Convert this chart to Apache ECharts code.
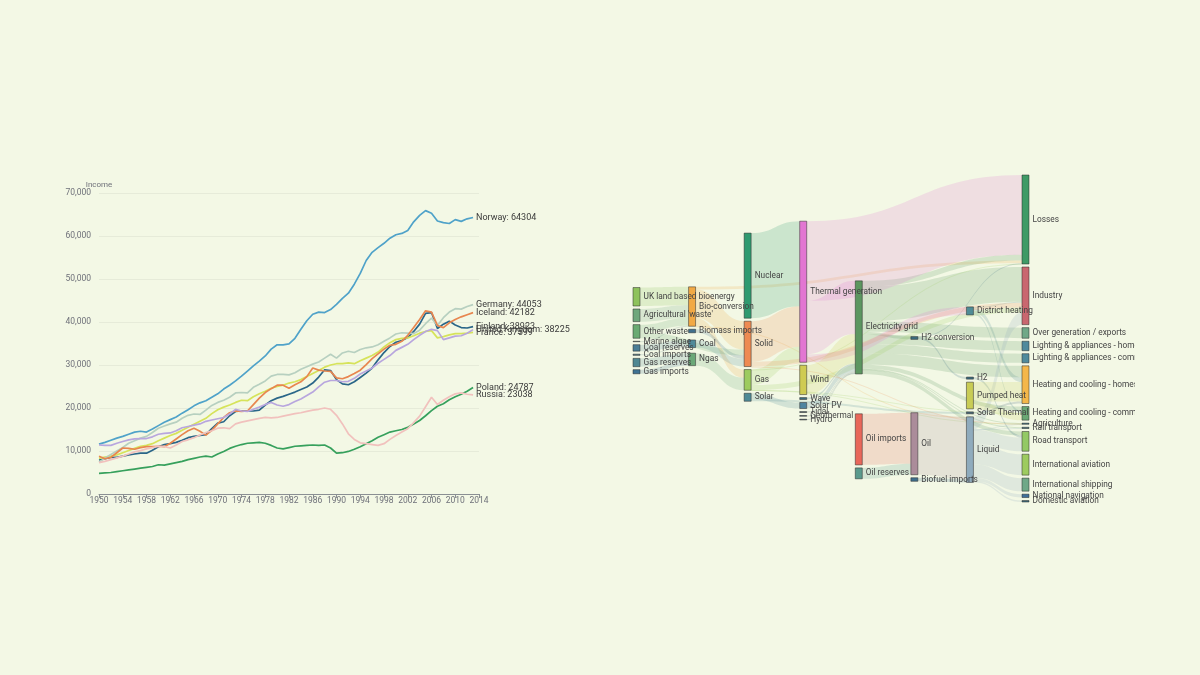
<!DOCTYPE html>
<html>
<head>
<meta charset="utf-8">
<script src="https://cdn.jsdelivr.net/npm/echarts@6/dist/echarts.min.js"></script>
<style>
  html, body { margin: 0; padding: 0; background: #f3f8e5; }
  #main { width: 1135px; height: 675px; overflow: hidden; }
</style>
</head>
<body>
<div id="main"></div>
<script>
// ---------- Line chart data (income per country) ----------
const years = [];
for (let y = 1950; y <= 2014; y++) years.push(String(y));

const countries = ['Finland', 'France', 'Germany', 'Iceland', 'Norway', 'Poland', 'Russia', 'United Kingdom'];

const finland = [7900,8200,8500,8500,8800,9100,9300,9500,9500,10200,
 11000,11500,11700,12000,12500,13100,13400,13600,13800,15200,
 16500,16800,18200,19200,19300,19300,19300,19500,20700,21700,
 22300,22700,23200,23700,24300,24900,25800,27200,28900,28700,
 26600,25600,25400,26100,27100,28100,29300,31200,32900,34300,
 35300,35700,36400,37800,39500,42000,42200,38500,39500,40200,
 39300,38700,38600,38923];
const france = [8300,8600,8800,9100,9600,10100,10600,11100,11300,11700,
 12400,13000,13600,14100,14800,15500,16200,16900,17600,18700,
 19600,20200,20700,21300,21800,21700,22600,23300,23900,24600,
 25000,25300,25800,26100,26600,27300,28000,28700,29500,30000,
 30300,30300,30500,30300,31000,31600,32200,33000,34200,35200,
 35900,36200,36300,36800,37400,37800,38000,36300,36600,37000,
 37300,37300,37400,37599];
const germany = [7400,8300,9200,10000,10800,11800,12400,13000,13400,14300,
 15300,15800,16300,16700,17600,18300,18600,18500,19500,20600,
 21300,21800,22500,23500,23600,23500,24800,25500,26300,27400,
 27800,27800,27700,28200,29000,29600,30200,30700,31600,32500,
 31600,32800,33200,32900,33600,34000,34200,34700,35500,36300,
 37200,37500,37400,37300,38100,39600,40900,39200,41000,42300,
 43100,43000,43600,44053];
const iceland = [8800,8200,8500,9600,10700,10600,10400,10800,11000,11000,
 11100,11000,11800,12800,13800,14700,15300,14600,13700,14800,
 16300,17800,18900,19300,19200,19300,20800,22300,23600,24500,
 25300,25300,24600,25400,26100,27300,29300,28800,28600,28500,
 27000,26800,27300,28000,28800,30100,31500,32600,33700,34600,
 34800,35500,36900,38700,40600,42600,42300,39200,38700,39800,
 40600,41200,41700,42182];
const norway = [11600,12000,12500,13000,13400,13900,14400,14600,14400,15100,
 15900,16700,17300,17900,18800,19600,20500,21200,21700,22500,
 23300,24400,25300,26300,27400,28600,29800,30900,32100,33700,
 34700,34700,34900,36200,38300,40300,41800,42300,42200,42900,
 44100,45500,46700,48800,51300,54300,56200,57300,58300,59500,
 60300,60600,61300,63300,64800,65900,65300,63500,63100,62900,
 63800,63400,64000,64304];
const poland = [4800,4900,5000,5200,5400,5600,5800,6000,6200,6400,
 6800,6700,7000,7300,7600,8000,8300,8600,8800,8600,
 9300,9900,10600,11100,11500,11800,11900,12000,11800,11300,
 10700,10500,10800,11100,11200,11300,11400,11300,11400,10700,
 9500,9600,9900,10400,11000,11700,12400,13200,13800,14400,
 14700,15000,15500,16300,17100,18200,19400,20400,21000,21900,
 22600,23200,23900,24787];
const russia = [7300,7600,8000,8400,8800,9300,9800,10100,10500,10800,
 11100,11000,10700,11400,12200,12600,13100,13700,14300,14700,
 15300,15400,15200,16300,16700,17000,17300,17600,17800,17700,
 17800,18100,18400,18700,18900,19200,19500,19700,20000,19700,
 18300,16300,14000,12700,11900,11700,11500,11300,11700,12700,
 13600,14400,15200,16600,18100,20300,22500,20800,21800,22600,
 23300,23500,23200,23038];
const unitedKingdom = [11400,11300,11300,11800,12200,12600,12800,12900,12900,13300,
 13900,14100,14200,14700,15400,15700,16000,16300,16900,17200,
 17500,17800,18600,19700,19300,19200,19700,20200,20800,21300,
 20700,20400,20800,21500,22100,22900,23700,24900,26000,26400,
 26400,26100,26200,26900,27900,28600,29300,30400,31300,32200,
 33400,34100,34800,35900,36900,37800,38300,38000,35900,36300,
 36700,36800,37400,38225];

const countryValues = [finland, france, germany, iceland, norway, poland, russia, unitedKingdom];
const countryColors = ['#2a6688', '#d6e35a', '#b7d0c0', '#e8864f', '#4fa2c9', '#36a05c', '#f1c1bd', '#b8a6de'];

// ---------- Sankey data (energy flows) ----------
const nodeNames = ["Agricultural 'waste'", "Bio-conversion", "Liquid", "Losses", "Solid", "Gas",
  "Biofuel imports", "Biomass imports", "Coal imports", "Coal", "Coal reserves", "District heating",
  "Industry", "Heating and cooling - commercial", "Heating and cooling - homes", "Electricity grid",
  "Over generation / exports", "H2 conversion", "Road transport", "Agriculture", "Rail transport",
  "Lighting & appliances - commercial", "Lighting & appliances - homes", "Gas imports", "Ngas",
  "Gas reserves", "Thermal generation", "Geothermal", "H2", "Hydro", "International shipping",
  "Domestic aviation", "International aviation", "National navigation", "Marine algae", "Nuclear",
  "Oil imports", "Oil", "Oil reserves", "Other waste", "Pumped heat", "Solar PV", "Solar Thermal",
  "Solar", "Tidal", "UK land based bioenergy", "Wave", "Wind"];

const flows = [
  ["Agricultural 'waste'", "Bio-conversion", 124.729],
  ["Bio-conversion", "Liquid", 0.597],
  ["Bio-conversion", "Losses", 26.862],
  ["Bio-conversion", "Solid", 280.322],
  ["Bio-conversion", "Gas", 81.144],
  ["Biofuel imports", "Liquid", 35],
  ["Biomass imports", "Solid", 35],
  ["Coal imports", "Coal", 11.606],
  ["Coal reserves", "Coal", 63.965],
  ["Coal", "Solid", 75.571],
  ["District heating", "Industry", 10.639],
  ["District heating", "Heating and cooling - commercial", 22.505],
  ["District heating", "Heating and cooling - homes", 46.184],
  ["Electricity grid", "Over generation / exports", 104.453],
  ["Electricity grid", "Heating and cooling - homes", 113.726],
  ["Electricity grid", "H2 conversion", 27.14],
  ["Electricity grid", "Industry", 342.165],
  ["Electricity grid", "Road transport", 37.797],
  ["Electricity grid", "Agriculture", 4.412],
  ["Electricity grid", "Heating and cooling - commercial", 40.858],
  ["Electricity grid", "Losses", 56.691],
  ["Electricity grid", "Rail transport", 7.863],
  ["Electricity grid", "Lighting & appliances - commercial", 90.008],
  ["Electricity grid", "Lighting & appliances - homes", 93.494],
  ["Gas imports", "Ngas", 40.719],
  ["Gas reserves", "Ngas", 82.233],
  ["Gas", "Heating and cooling - commercial", 0.129],
  ["Gas", "Losses", 1.401],
  ["Gas", "Thermal generation", 151.891],
  ["Gas", "Agriculture", 2.096],
  ["Gas", "Industry", 48.58],
  ["Geothermal", "Electricity grid", 7.013],
  ["H2 conversion", "H2", 20.897],
  ["H2 conversion", "Losses", 6.242],
  ["H2", "Road transport", 20.897],
  ["Hydro", "Electricity grid", 6.995],
  ["Liquid", "Industry", 121.066],
  ["Liquid", "International shipping", 128.69],
  ["Liquid", "Road transport", 135.835],
  ["Liquid", "Domestic aviation", 14.458],
  ["Liquid", "International aviation", 206.267],
  ["Liquid", "Agriculture", 3.64],
  ["Liquid", "National navigation", 33.218],
  ["Liquid", "Rail transport", 4.413],
  ["Marine algae", "Bio-conversion", 4.375],
  ["Ngas", "Gas", 122.952],
  ["Nuclear", "Thermal generation", 839.978],
  ["Oil imports", "Oil", 504.287],
  ["Oil reserves", "Oil", 107.703],
  ["Oil", "Liquid", 611.99],
  ["Other waste", "Solid", 56.587],
  ["Other waste", "Bio-conversion", 77.81],
  ["Pumped heat", "Heating and cooling - homes", 193.026],
  ["Pumped heat", "Heating and cooling - commercial", 70.672],
  ["Solar PV", "Electricity grid", 59.901],
  ["Solar Thermal", "Heating and cooling - homes", 19.263],
  ["Solar", "Solar Thermal", 19.263],
  ["Solar", "Solar PV", 59.901],
  ["Solid", "Agriculture", 0.882],
  ["Solid", "Thermal generation", 400.12],
  ["Solid", "Industry", 46.477],
  ["Thermal generation", "Electricity grid", 525.531],
  ["Thermal generation", "Losses", 787.129],
  ["Thermal generation", "District heating", 79.329],
  ["Tidal", "Electricity grid", 9.452],
  ["UK land based bioenergy", "Bio-conversion", 182.01],
  ["Wave", "Electricity grid", 19.013],
  ["Wind", "Electricity grid", 289.366]
];

const nodeColors = {
  "Agricultural 'waste'": '#6fa77c', "Bio-conversion": '#f2a945', "Liquid": '#8fabbd',
  "Losses": '#3f9a66', "Solid": '#ee8a52', "Gas": '#9dcb5f', "Biofuel imports": '#3f6f8c',
  "Biomass imports": '#3f6f8c', "Coal imports": '#5a7f8a', "Coal": '#4f8a9a',
  "Coal reserves": '#4a7d95', "District heating": '#4f8c96', "Industry": '#c9676f',
  "Heating and cooling - commercial": '#6aa874', "Heating and cooling - homes": '#f4b74a',
  "Electricity grid": '#5c9660', "Over generation / exports": '#6fa887', "H2 conversion": '#3d6f80',
  "Road transport": '#93c965', "Agriculture": '#3d6f80', "Rail transport": '#3d6f80',
  "Lighting & appliances - commercial": '#4f8a9c', "Lighting & appliances - homes": '#4f8a9c',
  "Gas imports": '#3f7393', "Ngas": '#6aa878', "Gas reserves": '#4f8792',
  "Thermal generation": '#e276d2', "Geothermal": '#4a6a7a', "H2": '#3d6f80', "Hydro": '#4a6a7a',
  "International shipping": '#6fa887', "Domestic aviation": '#3d6f80',
  "International aviation": '#9dcb5f', "National navigation": '#3f6f9a', "Marine algae": '#6a8a8a',
  "Nuclear": '#2f9a70', "Oil imports": '#e8675a', "Oil": '#ab8c9a', "Oil reserves": '#5a9a8c',
  "Other waste": '#6aaa72', "Pumped heat": '#c9cc55', "Solar PV": '#4e84a0',
  "Solar Thermal": '#4a6a7a', "Solar": '#4f8a96', "Tidal": '#4a6a7a',
  "UK land based bioenergy": '#8ec25c', "Wave": '#3d6f80', "Wind": '#cfcb52'
};

// ---------- Build option ----------
const lineSeries = countries.map((name, i) => ({
  type: 'line',
  name: name,
  data: countryValues[i],
  showSymbol: false,
  smooth: false,
  lineStyle: { width: 1.7, color: countryColors[i] },
  itemStyle: { color: countryColors[i] },
  endLabel: {
    show: true,
    distance: 3,
    fontSize: 9,
    color: '#3a3a3a',
    formatter: (p) => p.seriesName + ': ' + p.value
  },
  emphasis: { disabled: true }
}));

const option = {
  backgroundColor: '#f3f8e5',
  animation: false,
  textStyle: { fontFamily: 'Roboto, "Liberation Sans", Arial, sans-serif' },
  grid: { left: 99, top: 193, width: 380, height: 301, containLabel: false },
  xAxis: {
    type: 'category',
    data: years,
    boundaryGap: false,
    axisLine: { lineStyle: { color: '#8a8f93', width: 1 } },
    axisTick: { interval: 3, length: 4, lineStyle: { color: '#8a8f93' } },
    axisLabel: { interval: 3, fontSize: 8.5, color: '#6e7079', margin: 2 }
  },
  yAxis: {
    type: 'value',
    name: 'Income',
    nameGap: 4,
    nameTextStyle: { fontSize: 8, color: '#6e7079', align: 'center' },
    min: 0, max: 70000, interval: 10000,
    axisLine: { show: false },
    axisTick: { show: false },
    axisLabel: { fontSize: 8.5, color: '#6e7079', margin: 8,
      formatter: (v) => v.toLocaleString('en-US') },
    splitLine: { lineStyle: { color: 'rgba(0,0,0,0.05)' } }
  },
  series: lineSeries.concat([{
    type: 'sankey',
    left: 633,
    top: 175,
    width: 396,
    height: 327,
    nodeWidth: 7,
    nodeGap: 3,
    nodeAlign: 'right',
    draggable: false,
    emphasis: { focus: 'adjacency' },
    label: { fontSize: 8.3, color: '#444', distance: 3 },
    itemStyle: { borderWidth: 1, borderColor: 'rgba(40,40,40,0.5)' },
    lineStyle: { color: 'source', curveness: 0.5, opacity: 0.2 },
    data: nodeNames.map(n => ({ name: n, itemStyle: { color: nodeColors[n] } })),
    links: flows.map(f => ({ source: f[0], target: f[1], value: f[2] }))
  }])
};

const chart = echarts.init(document.getElementById('main'));
chart.setOption(option);
</script>
</body>
</html>
